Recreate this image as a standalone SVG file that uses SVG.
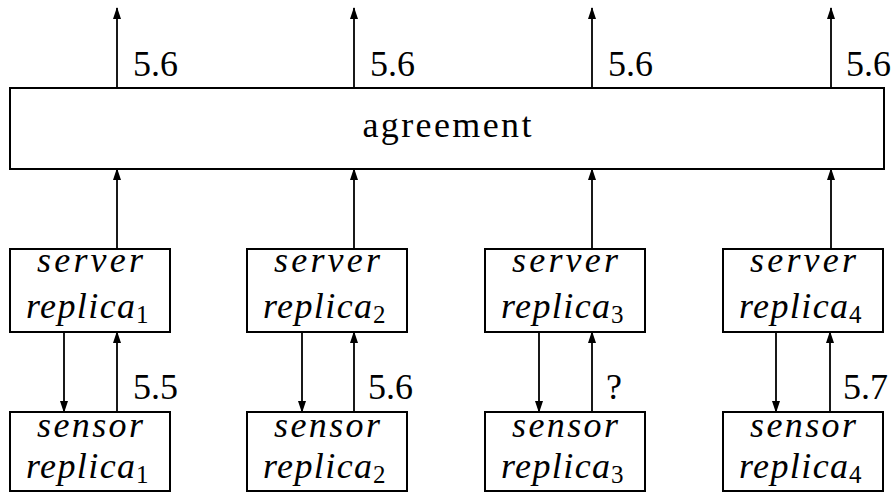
<svg xmlns="http://www.w3.org/2000/svg" width="892" height="493" viewBox="0 0 892 493">
  <style>
    .box { fill: #ffffff; stroke: #000000; stroke-width: 2; }
    .wire { stroke: #000000; stroke-width: 1.8; fill: none; marker-end: url(#head); }
    text { font-family: "Liberation Serif", "DejaVu Serif", "Noto Serif", "Times New Roman", Times, serif; fill: #000000; }
    .num { font-size: 36px; }
    .word { font-size: 36px; font-style: italic; }
    .sub { font-size: 25px; }
  </style>
  <defs>
    <marker id="head" markerUnits="userSpaceOnUse" markerWidth="12" markerHeight="8" refX="11" refY="4" orient="auto" viewBox="0 0 12 8">
      <path d="M0,0 L12,4 L0,8 Z" fill="#000000"/>
    </marker>
  </defs>

  <!-- agreement stage -->
  <g id="agreement">
    <rect class="box" x="10" y="88" width="874" height="81"/>
    <text class="num" x="447" y="137" text-anchor="middle" textLength="169" lengthAdjust="spacing">agreement</text>
  </g>

  <!-- server replicas -->
  <g id="server1">
    <rect class="box" x="10" y="249" width="160" height="83"/>
    <text class="word" x="37" y="272" textLength="106" lengthAdjust="spacing">server</text>
    <text class="word" x="26" y="318" textLength="109" lengthAdjust="spacing">replica</text>
    <text class="sub" x="136" y="323">1</text>
  </g>
  <g id="server2">
    <rect class="box" x="247" y="249" width="160" height="83"/>
    <text class="word" x="274" y="272" textLength="106" lengthAdjust="spacing">server</text>
    <text class="word" x="263" y="318" textLength="109" lengthAdjust="spacing">replica</text>
    <text class="sub" x="373" y="323">2</text>
  </g>
  <g id="server3">
    <rect class="box" x="485" y="249" width="160" height="83"/>
    <text class="word" x="512" y="272" textLength="106" lengthAdjust="spacing">server</text>
    <text class="word" x="501" y="318" textLength="109" lengthAdjust="spacing">replica</text>
    <text class="sub" x="611" y="323">3</text>
  </g>
  <g id="server4">
    <rect class="box" x="723" y="249" width="160" height="83"/>
    <text class="word" x="750" y="272" textLength="106" lengthAdjust="spacing">server</text>
    <text class="word" x="739" y="318" textLength="109" lengthAdjust="spacing">replica</text>
    <text class="sub" x="849" y="323">4</text>
  </g>

  <!-- sensor replicas -->
  <g id="sensor1">
    <rect class="box" x="10" y="412" width="160" height="79"/>
    <text class="word" x="37" y="437" textLength="106" lengthAdjust="spacing">sensor</text>
    <text class="word" x="26" y="478" textLength="109" lengthAdjust="spacing">replica</text>
    <text class="sub" x="136" y="483">1</text>
  </g>
  <g id="sensor2">
    <rect class="box" x="247" y="412" width="160" height="79"/>
    <text class="word" x="274" y="437" textLength="106" lengthAdjust="spacing">sensor</text>
    <text class="word" x="263" y="478" textLength="109" lengthAdjust="spacing">replica</text>
    <text class="sub" x="373" y="483">2</text>
  </g>
  <g id="sensor3">
    <rect class="box" x="485" y="412" width="160" height="79"/>
    <text class="word" x="512" y="437" textLength="106" lengthAdjust="spacing">sensor</text>
    <text class="word" x="501" y="478" textLength="109" lengthAdjust="spacing">replica</text>
    <text class="sub" x="611" y="483">3</text>
  </g>
  <g id="sensor4">
    <rect class="box" x="723" y="412" width="160" height="79"/>
    <text class="word" x="750" y="437" textLength="106" lengthAdjust="spacing">sensor</text>
    <text class="word" x="739" y="478" textLength="109" lengthAdjust="spacing">replica</text>
    <text class="sub" x="849" y="483">4</text>
  </g>

  <!-- connectors -->
  <g id="connectors">
    <!-- agreement outputs -->
    <line class="wire" x1="117" y1="88" x2="117" y2="8"/>
    <line class="wire" x1="354" y1="88" x2="354" y2="8"/>
    <line class="wire" x1="592" y1="88" x2="592" y2="8"/>
    <line class="wire" x1="831" y1="88" x2="831" y2="8"/>
    <!-- server to agreement -->
    <line class="wire" x1="117" y1="249" x2="117" y2="169"/>
    <line class="wire" x1="354" y1="249" x2="354" y2="169"/>
    <line class="wire" x1="592" y1="249" x2="592" y2="169"/>
    <line class="wire" x1="831" y1="249" x2="831" y2="169"/>
    <!-- server to sensor -->
    <line class="wire" x1="64" y1="332" x2="64" y2="412"/>
    <line class="wire" x1="302" y1="332" x2="302" y2="412"/>
    <line class="wire" x1="539" y1="332" x2="539" y2="412"/>
    <line class="wire" x1="776" y1="332" x2="776" y2="412"/>
    <!-- sensor to server -->
    <line class="wire" x1="117" y1="412" x2="117" y2="332"/>
    <line class="wire" x1="354" y1="412" x2="354" y2="332"/>
    <line class="wire" x1="592" y1="412" x2="592" y2="332"/>
    <line class="wire" x1="830" y1="412" x2="830" y2="332"/>
  </g>

  <!-- values -->
  <g id="values">
    <text class="num" x="133" y="76">5.6</text>
    <text class="num" x="370" y="76">5.6</text>
    <text class="num" x="608" y="76">5.6</text>
    <text class="num" x="846" y="76">5.6</text>
    <text class="num" x="133" y="399">5.5</text>
    <text class="num" x="368" y="399">5.6</text>
    <text class="num" x="606" y="399">?</text>
    <text class="num" x="843" y="399">5.7</text>
  </g>
</svg>
